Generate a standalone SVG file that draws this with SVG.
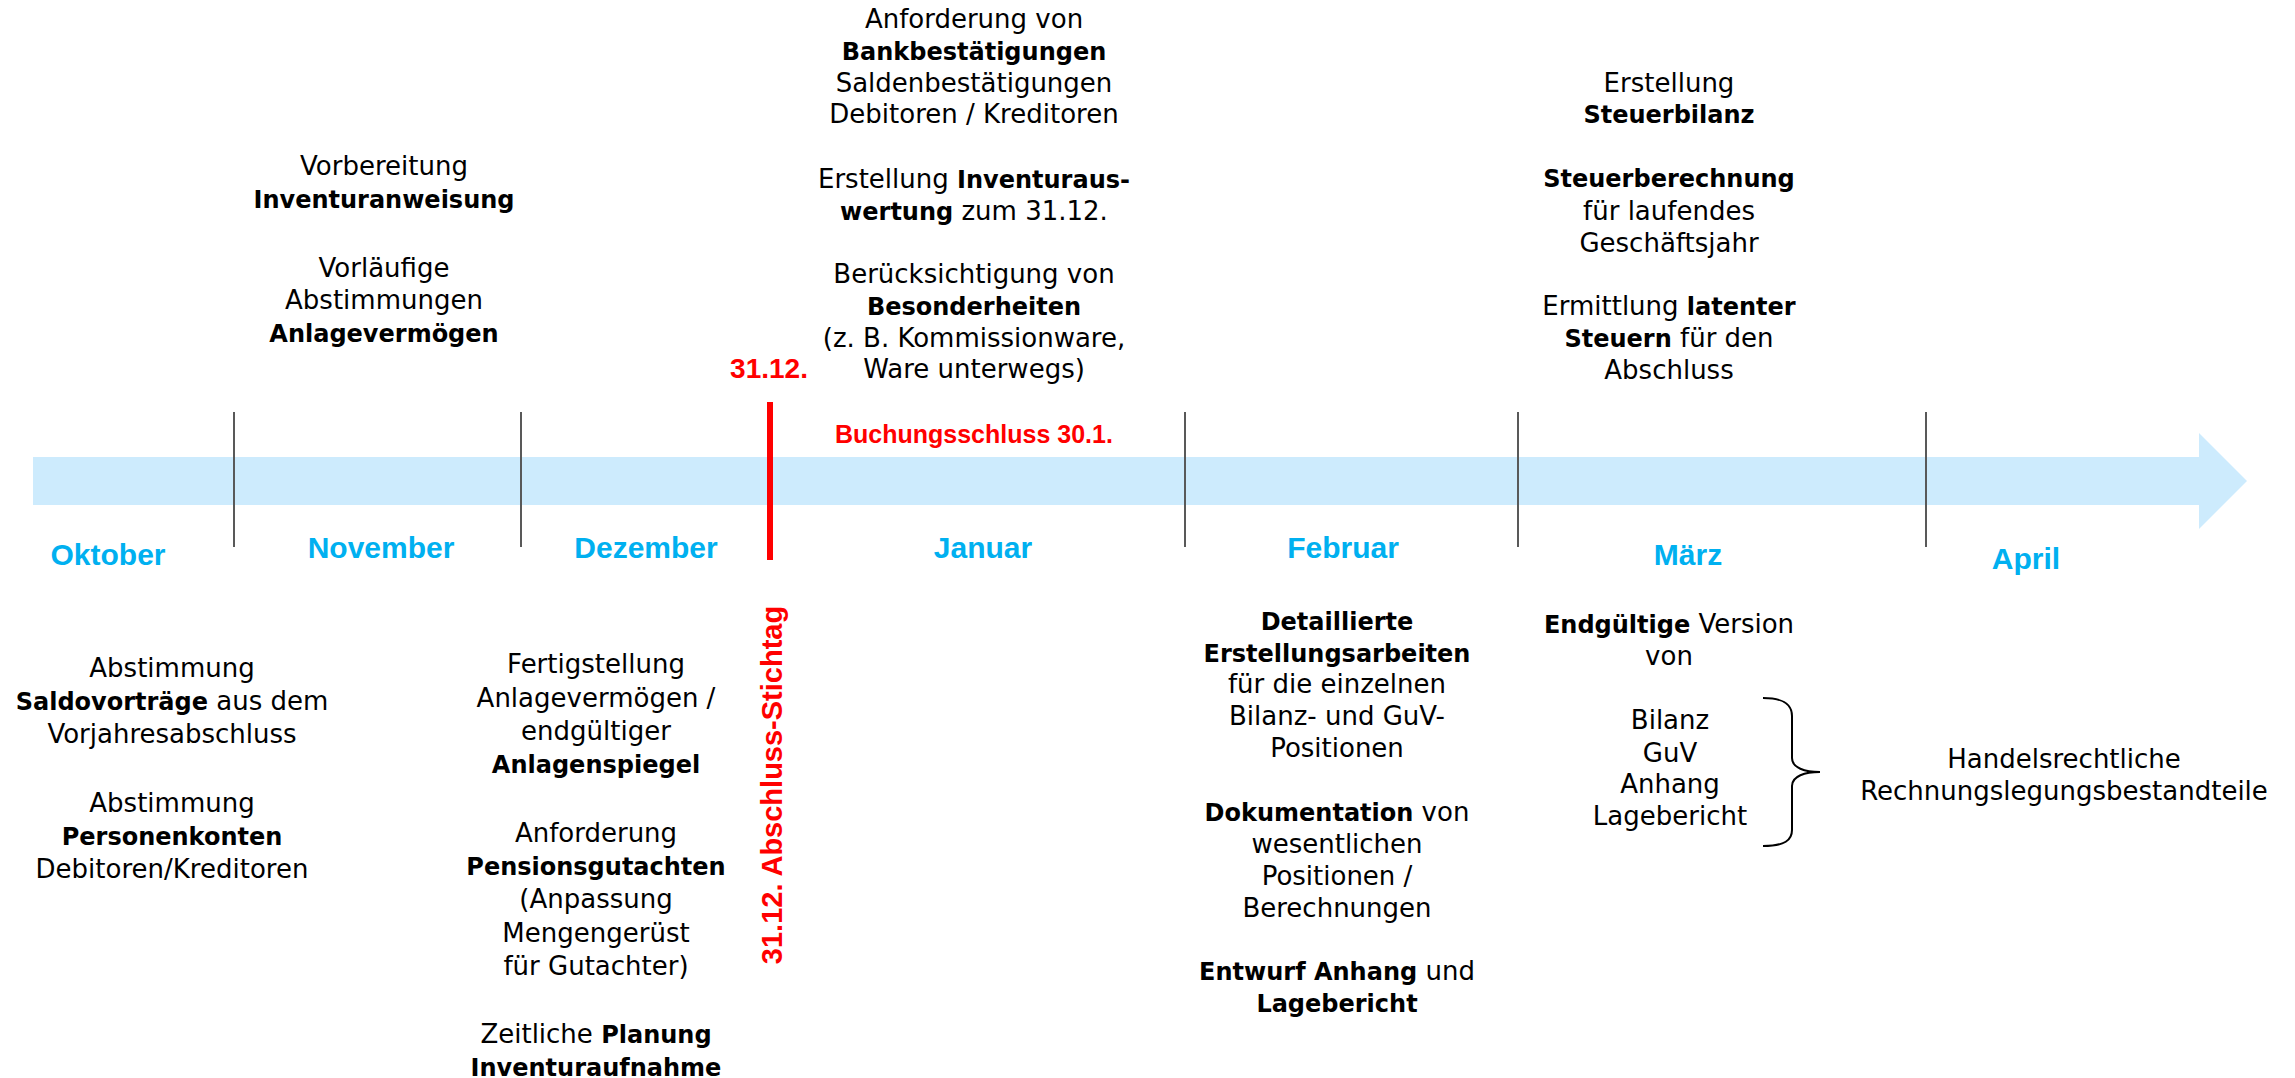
<svg xmlns="http://www.w3.org/2000/svg" width="2295" height="1078" viewBox="0 0 2295 1078">
<style>
.t{font-family:"DejaVu Sans",sans-serif;font-size:26px;fill:#000;text-anchor:middle}
.b{font-weight:bold;font-size:24px}
.m{font-family:"Liberation Sans",Arial,sans-serif;font-weight:bold;font-size:30px;fill:#00B0F0;text-anchor:middle}
.red{font-family:"Liberation Sans",Arial,sans-serif;font-weight:bold;fill:#FF0000}
.div{stroke:#595959;stroke-width:2}
</style>
<rect width="2295" height="1078" fill="#fff"/>
<g id="timeline">
<path d="M33,457 H2199 V433 L2247,481 L2199,529 V505 H33 Z" fill="#CDEBFD"/>
</g>
<g id="connectors">
<line class="div" x1="234" y1="412" x2="234" y2="547"/>
<line class="div" x1="521" y1="412" x2="521" y2="547"/>
<line class="div" x1="1185" y1="412" x2="1185" y2="547"/>
<line class="div" x1="1518" y1="412" x2="1518" y2="547"/>
<line class="div" x1="1926" y1="412" x2="1926" y2="547"/>
<line x1="770" y1="402" x2="770" y2="560" stroke="#FF0000" stroke-width="6"/>
<path d="M1763,698 C1785,698 1792,705 1792,716 L1792,758 C1792,768 1805,772 1820,772 C1805,772 1792,776 1792,786 L1792,830 C1792,840 1785,846 1763,846" fill="none" stroke="#000" stroke-width="2"/>
</g>
<g id="months">
<text class="m" x="108" y="565">Oktober</text>
<text class="m" x="381" y="558">November</text>
<text class="m" x="646" y="558">Dezember</text>
<text class="m" x="983" y="558">Januar</text>
<text class="m" x="1343" y="558">Februar</text>
<text class="m" x="1688" y="565">März</text>
<text class="m" x="2026" y="569">April</text>
</g>
<g id="stichtag">
<text class="red" x="769" y="378" font-size="28" text-anchor="middle">31.12.</text>
<text class="red" font-size="29" text-anchor="middle" transform="translate(782,785) rotate(-90)">31.12. Abschluss-Stichtag</text>
</g>
<g id="buchungsschluss">
<text class="red" x="835" y="443" font-size="25">Buchungsschluss 30.1.</text>
</g>
<g id="nov-top">
<text class="t" x="384" y="175">Vorbereitung</text>
<text class="t b" x="384" y="208">Inventuranweisung</text>
<text class="t" x="384" y="277">Vorläufige</text>
<text class="t" x="384" y="309">Abstimmungen</text>
<text class="t b" x="384" y="342">Anlagevermögen</text>
</g>
<g id="jan-top">
<text class="t" x="974" y="28">Anforderung von</text>
<text class="t b" x="974" y="60">Bankbestätigungen</text>
<text class="t" x="974" y="92">Saldenbestätigungen</text>
<text class="t" x="974" y="123">Debitoren / Kreditoren</text>
<text class="t" x="974" y="188">Erstellung <tspan class="b">Inventuraus-</tspan></text>
<text class="t" x="974" y="220"><tspan class="b">wertung</tspan> zum 31.12.</text>
<text class="t" x="974" y="283">Berücksichtigung von</text>
<text class="t b" x="974" y="315">Besonderheiten</text>
<text class="t" x="974" y="347">(z. B. Kommissionware,</text>
<text class="t" x="974" y="378">Ware unterwegs)</text>
</g>
<g id="mar-top">
<text class="t" x="1669" y="92">Erstellung</text>
<text class="t b" x="1669" y="123">Steuerbilanz</text>
<text class="t b" x="1669" y="187">Steuerberechnung</text>
<text class="t" x="1669" y="220">für laufendes</text>
<text class="t" x="1669" y="252">Geschäftsjahr</text>
<text class="t" x="1669" y="315">Ermittlung <tspan class="b">latenter</tspan></text>
<text class="t" x="1669" y="347"><tspan class="b">Steuern</tspan> für den</text>
<text class="t" x="1669" y="379">Abschluss</text>
</g>
<g id="okt-bottom">
<text class="t" x="172" y="677">Abstimmung</text>
<text class="t" x="172" y="710"><tspan class="b">Saldovorträge</tspan> aus dem</text>
<text class="t" x="172" y="743">Vorjahresabschluss</text>
<text class="t" x="172" y="812">Abstimmung</text>
<text class="t b" x="172" y="845">Personenkonten</text>
<text class="t" x="172" y="878">Debitoren/Kreditoren</text>
</g>
<g id="dez-bottom">
<text class="t" x="596" y="673">Fertigstellung</text>
<text class="t" x="596" y="707">Anlagevermögen /</text>
<text class="t" x="596" y="740">endgültiger</text>
<text class="t b" x="596" y="773">Anlagenspiegel</text>
<text class="t" x="596" y="842">Anforderung</text>
<text class="t b" x="596" y="875">Pensionsgutachten</text>
<text class="t" x="596" y="908">(Anpassung</text>
<text class="t" x="596" y="942">Mengengerüst</text>
<text class="t" x="596" y="975">für Gutachter)</text>
<text class="t" x="596" y="1043">Zeitliche <tspan class="b">Planung</tspan></text>
<text class="t b" x="596" y="1076">Inventuraufnahme</text>
</g>
<g id="feb-bottom">
<text class="t b" x="1337" y="630">Detaillierte</text>
<text class="t b" x="1337" y="662">Erstellungsarbeiten</text>
<text class="t" x="1337" y="693">für die einzelnen</text>
<text class="t" x="1337" y="725">Bilanz- und GuV-</text>
<text class="t" x="1337" y="757">Positionen</text>
<text class="t" x="1337" y="821"><tspan class="b">Dokumentation</tspan> von</text>
<text class="t" x="1337" y="853">wesentlichen</text>
<text class="t" x="1337" y="885">Positionen /</text>
<text class="t" x="1337" y="917">Berechnungen</text>
<text class="t" x="1337" y="980"><tspan class="b">Entwurf Anhang</tspan> und</text>
<text class="t b" x="1337" y="1012">Lagebericht</text>
</g>
<g id="mar-bottom">
<text class="t" x="1669" y="633"><tspan class="b">Endgültige</tspan> Version</text>
<text class="t" x="1669" y="665">von</text>
<text class="t" x="1670" y="729">Bilanz</text>
<text class="t" x="1670" y="762">GuV</text>
<text class="t" x="1670" y="793">Anhang</text>
<text class="t" x="1670" y="825">Lagebericht</text>
</g>
<g id="hgb">
<text class="t" x="2064" y="768">Handelsrechtliche</text>
<text class="t" x="2064" y="800">Rechnungslegungsbestandteile</text>
</g>
</svg>
